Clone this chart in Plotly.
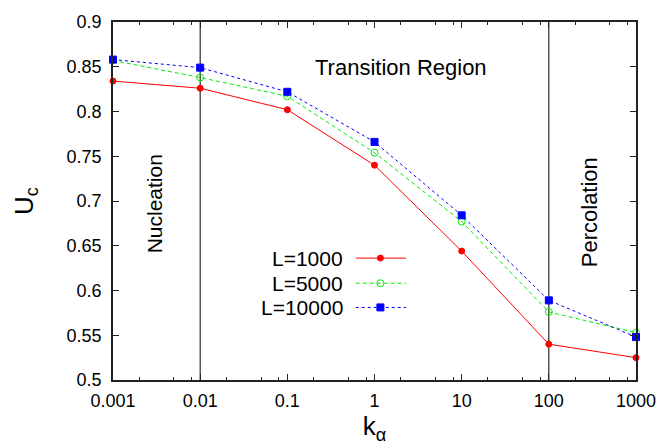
import plotly.graph_objects as go

# ---- data ----
k_alpha = [0.001, 0.01, 0.1, 1, 10, 100, 1000]
u_L1000 = [0.834, 0.826, 0.802, 0.740, 0.644, 0.540, 0.525]
u_L5000 = [0.857, 0.838, 0.817, 0.754, 0.677, 0.576, 0.553]
u_L10000 = [0.858, 0.849, 0.822, 0.766, 0.684, 0.589, 0.548]
series_names = ["L=1000", "L=5000", "L=10000"]
x_ticks = [0.001, 0.01, 0.1, 1, 10, 100, 1000]
x_ticktext = ["0.001", "0.01", "0.1", "1", "10", "100", "1000"]
y_ticks = [0.5, 0.55, 0.6, 0.65, 0.7, 0.75, 0.8, 0.85, 0.9]
y_ticktext = ["0.5", "0.55", "0.6", "0.65", "0.7", "0.75", "0.8", "0.85", "0.9"]
boundaries = [0.01, 100]
region_labels = ["Nucleation", "Transition Region", "Percolation"]

FONT = "Liberation Sans, Arial, Helvetica, sans-serif"
W, H = 668, 448
L, R, T, B = 113, 25, 18, 60

styles = [
    dict(color="#ff0000", dash="solid", symbol="circle", size=6),
    dict(color="#00ee00", dash="4px,3px", symbol="circle-open", size=7),
    dict(color="#0000ff", dash="dot", symbol="square", size=7),
]
values = [u_L1000, u_L5000, u_L10000]

fig = go.Figure()

# region boundary lines
for b in boundaries:
    fig.add_trace(go.Scatter(x=[b, b], y=[0.5, 0.9], mode="lines",
                             line=dict(color="#000000", width=1),
                             showlegend=False, hoverinfo="skip"))

for name, vals, st in zip(series_names, values, styles):
    fig.add_trace(go.Scatter(
        x=k_alpha, y=vals, mode="lines+markers", name=name,
        line=dict(color=st["color"], width=1, dash=st["dash"]),
        marker=dict(symbol=st["symbol"], size=st["size"], color=st["color"],
                    line=dict(color=st["color"], width=1)),
        cliponaxis=False, showlegend=False))

# manual legend (text left, sample right) on a pixel overlay axis
leg_rows = [262, 288, 313]
for name, st, yy in zip(series_names, styles, leg_rows):
    fig.add_trace(go.Scatter(
        x=[359, 384, 410], y=[yy, yy, yy], xaxis="x2", yaxis="y2",
        mode="lines+markers",
        line=dict(color=st["color"], width=1, dash=st["dash"]),
        marker=dict(symbol=st["symbol"], size=st["size"], color=st["color"],
                    line=dict(color=st["color"], width=1),
                    opacity=[0, 1, 0]),
        showlegend=False, hoverinfo="skip"))
    fig.add_annotation(x=348, y=yy, xref="x2", yref="y2", text=name,
                       showarrow=False, xanchor="right", yanchor="middle",
                       font=dict(family=FONT, size=21, color="#000000"))

# region labels
fig.add_annotation(x=155, y=206, xref="x2", yref="y2", text=region_labels[0],
                   textangle=-90, showarrow=False,
                   font=dict(family=FONT, size=21, color="#000000"))
fig.add_annotation(x=405, y=65, xref="x2", yref="y2", text=region_labels[1],
                   showarrow=False,
                   font=dict(family=FONT, size=22, color="#000000"))
fig.add_annotation(x=596, y=215, xref="x2", yref="y2", text=region_labels[2],
                   textangle=-90, showarrow=False,
                   font=dict(family=FONT, size=22, color="#000000"))

minor_vals = [m * 10 ** e for e in range(-3, 3) for m in (2, 5, 8)]

axis_common = dict(showline=True, linecolor="#222222", linewidth=1.5,
                   mirror="ticks", ticks="inside", tickcolor="#222222",
                   showgrid=False, zeroline=False,
                   tickfont=dict(family=FONT, size=18, color="#000000"))

fig.update_layout(
    width=W, height=H,
    margin=dict(l=L, r=R, t=T, b=B),
    paper_bgcolor="white", plot_bgcolor="white",
    xaxis=dict(type="log", range=[-3, 3], tickmode="array",
               tickvals=x_ticks, ticktext=x_ticktext, ticklen=6,
               minor=dict(tickmode="array", tickvals=minor_vals,
                          ticks="inside", ticklen=3, tickcolor="#222222"),
               title=dict(text="k<sub>α</sub>", standoff=6,
                          font=dict(family=FONT, size=26, color="#000000")),
               ticklabelstandoff=4,
               **axis_common),
    yaxis=dict(range=[0.5, 0.9], tickmode="array", tickvals=y_ticks,
               ticktext=y_ticktext, ticklen=6,
               title=dict(text="U<sub>c</sub>", standoff=26,
                          font=dict(family=FONT, size=26, color="#000000")),
               ticklabelstandoff=6,
               **axis_common),
    xaxis2=dict(overlaying="x", range=[L, W - R], visible=False),
    yaxis2=dict(overlaying="y", range=[H - B, T], visible=False),
    showlegend=False,
)

fig.write_html("out.html")
